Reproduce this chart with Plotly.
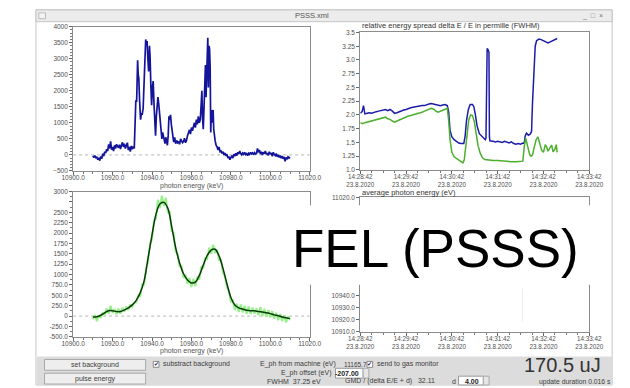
import plotly.graph_objects as go

# ---------------- data ----------------
# top-left: single-shot spectrum (photon energy keV, counts)
spec_e = [10910.0, 10910.5, 10911.0, 10911.5, 10912.0, 10912.5, 10913.0, 10913.5, 10914.0, 10914.5,
          10915.0, 10915.5, 10916.0, 10916.5, 10917.0, 10917.5, 10918.0, 10918.5, 10919.0, 10919.5,
          10920.0, 10920.5, 10921.0, 10921.5, 10922.0, 10922.5, 10923.0, 10923.5, 10924.0, 10924.5,
          10925.0, 10925.5, 10926.0, 10926.5, 10927.0, 10927.5, 10928.0, 10928.5, 10929.0, 10929.5,
          10930.0, 10930.5, 10931.0, 10931.3, 10931.8, 10932.2, 10932.7, 10933.0, 10933.3, 10933.7,
          10934.2, 10934.6, 10935.0, 10935.5, 10936.0, 10936.4, 10936.8, 10937.1, 10937.5, 10937.9,
          10938.3, 10938.7, 10939.0, 10939.4, 10939.8, 10940.2, 10940.6, 10941.0, 10941.4, 10941.8,
          10942.2, 10942.6, 10943.0, 10943.4, 10943.8, 10944.2, 10944.6, 10945.0, 10945.4, 10945.8,
          10946.2, 10946.6, 10947.0, 10947.4, 10947.8, 10948.2, 10948.6, 10949.0, 10949.4, 10949.8,
          10950.2, 10950.6, 10951.0, 10951.5, 10952.0, 10952.5, 10953.0, 10953.5, 10954.0, 10954.5,
          10955.0, 10955.5, 10956.0, 10956.5, 10957.0, 10957.5, 10958.0, 10958.5, 10959.0, 10959.5,
          10960.0, 10960.5, 10961.0, 10961.5, 10962.0, 10962.5, 10963.0, 10963.5, 10964.0, 10964.5,
          10965.0, 10965.3, 10965.6, 10966.0, 10966.4, 10966.8, 10967.1, 10967.4, 10967.7, 10968.0,
          10968.3, 10968.6, 10968.9, 10969.2, 10969.5, 10969.8, 10970.1, 10970.4, 10970.7, 10971.0,
          10971.3, 10971.6, 10972.0, 10972.5, 10973.0, 10973.5, 10974.0, 10974.5, 10975.0, 10975.5,
          10976.0, 10976.5, 10977.0, 10977.5, 10978.0, 10978.5, 10979.0, 10979.5, 10980.0, 10980.5,
          10981.0, 10981.5, 10982.0, 10982.5, 10983.0, 10983.5, 10984.0, 10984.5, 10985.0, 10985.5,
          10986.0, 10986.5, 10987.0, 10987.5, 10988.0, 10988.5, 10989.0, 10989.5, 10990.0, 10990.5,
          10991.0, 10991.5, 10992.0, 10992.5, 10993.0, 10993.5, 10994.0, 10994.5, 10995.0, 10995.5,
          10996.0, 10996.5, 10997.0, 10997.5, 10998.0, 10998.5, 10999.0, 10999.5, 11000.0, 11000.5,
          11001.0, 11001.5, 11002.0, 11002.5, 11003.0, 11003.5, 11004.0, 11004.5, 11005.0, 11005.5,
          11006.0, 11006.5, 11007.0, 11007.5, 11008.0, 11008.5, 11009.0, 11009.5, 11010.0]
spec_v = [-30, -80, -20, -100, -60, -150, -90, -180, -50, -120,
          40, -40, 100, 60, 180, 120, 330, 200, 420, 160,
          250, 120, 300, 200, 330, 260, 220, 320, 180, 300,
          390, 250, 350, 200, 300, 380, 150, 250, 100, 280,
          180, 260, 200, 600, 1700, 1650, 2950, 2500, 2400, 1700,
          1100, 1300, 1250, 1450, 2200, 3200, 3600, 3450, 3550, 3000,
          2600, 3400, 3100, 2200, 1550, 2100, 2300, 1600, 1100, 600,
          1200, 1750, 1800, 1600, 1300, 1150, 800, 500, 700, 600,
          450, 350, 550, 400, 300, 600, 1200, 1100, 1250, 950,
          800, 600, 400, 550, 350, 450, 380, 420, 330, 500,
          450, 380, 420, 520, 380, 450, 600, 700, 780, 650,
          850, 750, 900, 1000, 850, 1100, 950, 1200, 1000, 1100,
          1650, 2000, 1200, 800, 1500, 2400, 2800, 1800, 2600, 3100,
          3650, 2100, 3400, 3300, 2700, 700, 1400, 1000, 1300, 1400,
          800, 600, 450, 300, 250, 150, 250, 100, 120, 50,
          100, 0, 60, -30, 20, -100, -50, -150, -60, -20,
          -100, 20, -40, 50, -20, 80, 30, 120, 40, 0,
          60, 20, 80, 10, 40, -20, 50, 20, 80, 30,
          60, 10, 70, 30, 40, 200, 80, 150, 30, 100,
          0, 80, 40, 120, 20, 60, -20, 100, 20, 60,
          -40, 80, 10, -20, 40, -60, 0, -80, -20, -100,
          -40, -120, -60, -200, -80, -120, -60, -100, -70]

# bottom-left: averaged spectrum (raw average + smoothed)
avg_e = list(range(10910, 11011))
avg_raw = [-80, 30, -120, 20, -40, 90, 20, 180, 60, 250,
           80, 170, 40, 180, 60, 200, 110, 230, 150, 280,
           220, 320, 330, 500, 480, 760, 760, 1150, 1300, 1750,
           1850, 2300, 2350, 2800, 2600, 2900, 2650, 2850, 2500, 2500,
           2050, 2000, 1550, 1500, 1200, 1200, 920, 1000, 780, 920,
           700, 900, 720, 950, 880, 1200, 1150, 1400, 1380, 1650,
           1500, 1720, 1520, 1600, 1350, 1350, 1050, 950, 700, 600,
           350, 380, 150, 300, 100, 280, 90, 250, 60, 230,
           50, 200, 60, 180, 20, 220, 0, 170, -10, 150,
           -30, 120, -60, 80, -100, 50, -120, 20, -150, -10,
           -100]
smooth_e = list(range(10910, 11011, 2))
smooth_v = [-20, -15, 20, 80, 130, 130, 110, 110, 150, 200,
            270, 380, 560, 850, 1400, 1950, 2450, 2700, 2740, 2600,
            2150, 1650, 1280, 1020, 870, 800, 820, 980, 1230, 1460,
            1590, 1610, 1450, 1150, 780, 450, 270, 200, 170, 140,
            130, 130, 110, 100, 80, 60, 30, 10, -20, -40,
            -60]

# top-right: relative energy spread vs time (minutes after 14:28:42)
blue_t = [0.00, 0.04, 0.07, 0.10, 0.15, 0.20, 0.25, 0.30, 0.35, 0.40, 0.45, 0.50, 0.55, 0.60,
          0.65, 0.70, 0.75, 0.80, 0.85, 0.90, 0.95, 1.00, 1.05, 1.10, 1.15, 1.20, 1.25, 1.30,
          1.35, 1.40, 1.45, 1.50, 1.55, 1.60, 1.65, 1.70, 1.75, 1.80, 1.85, 1.90, 1.93, 1.96,
          2.00, 2.05, 2.10, 2.15, 2.20, 2.26, 2.29, 2.32, 2.36, 2.40, 2.45, 2.48, 2.51, 2.55,
          2.60, 2.65, 2.70, 2.73, 2.745, 2.755, 2.77, 2.79, 2.81, 2.82, 2.83, 2.90, 2.95, 3.00,
          3.05, 3.10, 3.15, 3.20, 3.25, 3.30, 3.35, 3.40, 3.45, 3.50, 3.55, 3.58, 3.60, 3.63,
          3.67, 3.71, 3.74, 3.76, 3.79, 3.82, 3.85, 3.90, 3.95, 4.00, 4.05, 4.10, 4.15, 4.20,
          4.25, 4.30]
blue_v = [2.03, 2.06, 2.17, 2.02, 2.03, 2.04, 2.03, 2.05, 2.06, 2.07, 2.08, 2.09, 2.10, 2.08,
          2.10, 2.07, 2.03, 2.04, 2.06, 2.07, 2.09, 2.10, 2.12, 2.13, 2.14, 2.15, 2.16, 2.16,
          2.17, 2.17, 2.19, 2.20, 2.21, 2.20, 2.19, 2.18, 2.17, 2.18, 2.19, 2.17, 2.05, 1.72,
          1.60, 1.55, 1.52, 1.49, 1.48, 1.48, 1.62, 1.90, 2.10, 2.19, 2.19, 2.15, 2.02, 1.80,
          1.66, 1.61, 1.57, 1.55, 1.58, 3.15, 3.21, 3.19, 3.14, 1.60, 1.53, 1.52, 1.51, 1.52,
          1.51, 1.50, 1.52, 1.50, 1.49, 1.51, 1.48, 1.47, 1.48, 1.47, 1.49, 1.48, 1.62, 1.67,
          1.63, 1.65, 1.70, 2.20, 2.80, 3.25, 3.35, 3.38, 3.37, 3.35, 3.33, 3.31, 3.33, 3.35,
          3.38, 3.39]
green_t = [0.00, 0.05, 0.10, 0.15, 0.20, 0.25, 0.30, 0.35, 0.40, 0.45, 0.50, 0.55, 0.60, 0.65,
           0.70, 0.75, 0.80, 0.85, 0.90, 0.95, 1.00, 1.05, 1.10, 1.15, 1.20, 1.25, 1.30, 1.35,
           1.40, 1.45, 1.50, 1.55, 1.60, 1.65, 1.70, 1.75, 1.80, 1.85, 1.90, 1.93, 1.96, 2.00,
           2.05, 2.10, 2.15, 2.20, 2.24, 2.27, 2.30, 2.33, 2.37, 2.41, 2.45, 2.49, 2.53, 2.57,
           2.62, 2.67, 2.72, 2.80, 2.90, 3.00, 3.10, 3.20, 3.30, 3.40, 3.50, 3.55, 3.58, 3.61,
           3.64, 3.67, 3.70, 3.73, 3.76, 3.80, 3.84, 3.88, 3.92, 3.96, 4.00, 4.04, 4.07, 4.10,
           4.14, 4.18, 4.21, 4.25, 4.28, 4.30]
green_v = [1.86, 1.84, 1.86, 1.87, 1.88, 1.90, 1.91, 1.92, 1.93, 1.94, 1.95, 1.96, 1.93, 1.92,
           1.89, 1.87, 1.89, 1.91, 1.93, 1.95, 1.96, 1.98, 1.99, 2.00, 2.01, 2.03, 2.04, 2.05,
           2.07, 2.09, 2.11, 2.12, 2.11, 2.07, 2.05, 2.07, 2.09, 2.11, 2.12, 1.90, 1.55, 1.32,
           1.24, 1.21, 1.18, 1.16, 1.13, 1.18, 1.40, 1.72, 1.92, 2.00, 1.99, 1.88, 1.65, 1.45,
           1.30, 1.22, 1.19, 1.18, 1.17, 1.17, 1.16, 1.16, 1.15, 1.15, 1.15, 1.16, 1.42, 1.58,
           1.48, 1.38, 1.28, 1.25, 1.27, 1.42, 1.55, 1.60, 1.48, 1.36, 1.32, 1.46, 1.42, 1.34,
           1.40, 1.45, 1.33, 1.38, 1.46, 1.32]

time_ticks = [0, 1, 2, 3, 4, 5]
time_labels = ["14:28:42<br>23.8.2020", "14:29:42<br>23.8.2020", "14:30:42<br>23.8.2020",
               "14:31:42<br>23.8.2020", "14:32:42<br>23.8.2020", "14:33:42<br>23.8.2020"]
spread_ticks = [1.0, 1.25, 1.5, 1.75, 2.0, 2.25, 2.5, 2.75, 3.0, 3.25, 3.5]
spread_labels = ["1.0", "1.25", "1.5", "1.75", "2.0", "2.25", "2.5", "2.75", "3.0", "3.25", "3.5"]
avg_ticks = [3000, 2750, 2500, 2250, 2000, 1750, 1500, 1250, 1000, 750, 500, 250, 0, -250, -500]
avg_labels = ["3000", "", "2500", "2250", "2000", "1750", "1500", "1250", "1000", "750.0",
              "500.0", "250.0", "0", "-250.0", "-500.0"]
ephot_ticks = [10910, 10920, 10930, 10940, 11020]
ephot_labels = ["10910.0", "10920.0", "10930.0", "10940.0", "11020.0"]

# ---------------- layout helpers ----------------
W, H = 630, 388
def px(x): return x / W
def py(y): return 1 - y / H

TF = dict(size=6.5, color="#505050", family="Liberation Sans")
TFT = dict(size=6.3, color="#505050", family="Liberation Sans")
def ax(**kw):
    d = dict(showgrid=False, zeroline=False, showline=True, linecolor="#8c8c8c", linewidth=1,
             mirror=True, ticks="outside", ticklen=3, tickcolor="#666", tickfont=TF,
             fixedrange=True)
    d.update(kw)
    return d

fig = go.Figure()
fig.add_trace(go.Scatter(x=spec_e, y=spec_v, mode="lines", line=dict(color="#14149a", width=1.7),
                         xaxis="x", yaxis="y", showlegend=False))
fig.add_trace(go.Scatter(x=blue_t, y=blue_v, mode="lines", line=dict(color="#1c1ca8", width=1.5),
                         xaxis="x2", yaxis="y2", showlegend=False))
fig.add_trace(go.Scatter(x=green_t, y=green_v, mode="lines", line=dict(color="#4caf2e", width=1.5),
                         xaxis="x2", yaxis="y2", showlegend=False))
fig.add_trace(go.Scatter(x=avg_e, y=avg_raw, mode="lines", line=dict(color="#96f088", width=2.0),
                         xaxis="x3", yaxis="y3", showlegend=False))
fig.add_trace(go.Scatter(x=smooth_e, y=smooth_v, mode="lines", line=dict(color="#0b3a0b", width=1.5, shape="spline"),
                         xaxis="x3", yaxis="y3", showlegend=False))
fig.add_trace(go.Scatter(x=[], y=[], mode="lines", xaxis="x4", yaxis="y4", showlegend=False))

fig.update_layout(
    width=W, height=H, margin=dict(l=0, r=0, t=0, b=0),
    paper_bgcolor="white", plot_bgcolor="white", showlegend=False,
    xaxis=ax(domain=[px(62), px(310)], range=[10900, 11020], dtick=20, tickformat=".1f",
             anchor="y", ticklabelstandoff=-3,
             minor=dict(ticks="outside", ticklen=2, dtick=5, tickcolor="#777")),
    yaxis=ax(domain=[py(170), py(23)], range=[-500, 4000], dtick=500, anchor="x",
             minor=dict(ticks="outside", ticklen=2, dtick=100, tickcolor="#777")),
    xaxis2=ax(domain=[px(363), px(603)], range=[0, 5], tickvals=time_ticks, ticktext=time_labels,
              anchor="y2", tickfont=TFT, ticklabelstandoff=-3,
              minor=dict(ticks="outside", ticklen=2, dtick=0.25, tickcolor="#777")),
    yaxis2=ax(domain=[py(169), py(29)], range=[1.0, 3.5], tickvals=spread_ticks, ticktext=spread_labels,
              anchor="x2"),
    xaxis3=ax(domain=[px(62), px(310)], range=[10900, 11020], dtick=20, tickformat=".1f",
              anchor="y3", ticklabelstandoff=-3,
              minor=dict(ticks="outside", ticklen=2, dtick=5, tickcolor="#777")),
    yaxis3=ax(domain=[py(339), py(191)], range=[-500, 3000], tickvals=avg_ticks, ticktext=avg_labels,
              anchor="x3", minor=dict(ticks="outside", ticklen=2, dtick=125, tickcolor="#777")),
    xaxis4=ax(domain=[px(363), px(603)], range=[0, 5], tickvals=time_ticks, ticktext=time_labels,
              anchor="y4", tickfont=TFT, ticklabelstandoff=-3,
              minor=dict(ticks="outside", ticklen=2, dtick=0.25, tickcolor="#777")),
    yaxis4=ax(domain=[py(334), py(197)], range=[10910, 11020], tickvals=ephot_ticks, ticktext=ephot_labels,
              anchor="x4"),
)

shapes = []
# window frame
shapes.append(dict(type="rect", xref="paper", yref="paper", x0=px(23), x1=px(627), y0=py(388), y1=py(6),
                   line=dict(color="#c4c4c4", width=1), fillcolor="rgba(0,0,0,0)", layer="below"))
shapes.append(dict(type="rect", xref="paper", yref="paper", x0=px(23), x1=px(627), y0=py(18), y1=py(6),
                   line=dict(color="#c4c4c4", width=1), fillcolor="#ececec", layer="below"))
shapes.append(dict(type="rect", xref="paper", yref="paper", x0=px(26), x1=px(33), y0=py(15), y1=py(9),
                   line=dict(color="#bbbbbb", width=1), fillcolor="#f4f4f4", layer="below"))
# zero lines
for xr, yr in (("x domain", "y"), ("x3 domain", "y3")):
    shapes.append(dict(type="line", xref=xr, yref=yr, x0=0, x1=1, y0=0, y1=0,
                       line=dict(color="#b8b8b8", width=1, dash="dot"), layer="below"))
# bottom control panel
shapes.append(dict(type="rect", xref="paper", yref="paper", x0=px(24), x1=px(627), y0=py(388), y1=py(359),
                   line=dict(width=0), fillcolor="#dcdcdc", layer="above"))
for y0, y1 in ((362, 373), (376, 387)):
    shapes.append(dict(type="rect", xref="paper", yref="paper", x0=px(32), x1=px(138), y0=py(y1), y1=py(y0),
                       line=dict(color="#a8a8a8", width=1), fillcolor="#eeeeee", layer="above"))
for x0 in (146, 370):
    shapes.append(dict(type="rect", xref="paper", yref="paper", x0=px(x0), x1=px(x0 + 6), y0=py(370), y1=py(364),
                       line=dict(color="#888", width=1), fillcolor="white", layer="above"))
# input boxes
for x0, x1, y0, y1 in ((337, 366, 371, 381), (466, 492, 379, 388)):
    shapes.append(dict(type="rect", xref="paper", yref="paper", x0=px(x0), x1=px(x1), y0=py(y1), y1=py(y0),
                       line=dict(color="#999", width=1), fillcolor="white", layer="above"))
    shapes.append(dict(type="rect", xref="paper", yref="paper", x0=px(x1), x1=px(x1 + 6), y0=py(y1), y1=py(y0),
                       line=dict(color="#aaa", width=1), fillcolor="#e6e6e6", layer="above"))
# faint artefact line in bottom-right plot
shapes.append(dict(type="line", xref="paper", yref="paper", x0=px(533), x1=px(533), y0=py(323), y1=py(290),
                   line=dict(color="#ececec", width=1), layer="above"))
# white overlay box
shapes.append(dict(type="rect", xref="paper", yref="paper", x0=px(290), x1=px(612), y0=py(286), y1=py(205),
                   line=dict(width=0), fillcolor="white", layer="above"))
fig.update_layout(shapes=shapes)

anns = []
def txt(x, y, s, size=7, color="#3c3c3c", xanchor="left", family="Liberation Sans"):
    anns.append(dict(x=px(x), y=py(y), xref="paper", yref="paper", text=s, showarrow=False,
                     xanchor=xanchor, yanchor="middle", font=dict(size=size, color=color, family=family)))

txt(312, 12, "PSSS.xml", size=7.5, color="#555", xanchor="center")
txt(606, 12, "_  □  ×", size=7, color="#777", xanchor="center")
txt(186, 185, "photon energy (keV)", xanchor="center", color="#555")
txt(186, 353, "photon energy (keV)", xanchor="center", color="#555")
txt(363, 22, "relative energy spread delta E / E in permille (FWHM)", size=7.5, color="#333")
txt(363, 192, "average photon energy (eV)", size=7.5, color="#333")
txt(85, 367.5, "set background", xanchor="center")
txt(85, 381.5, "pulse energy", xanchor="center")
txt(149, 367, "✔", size=6, color="#225", xanchor="center")
txt(154, 367, "substract background")
txt(340, 367, "E_ph from machine (eV)", xanchor="right")
txt(344, 367, "11165.7", size=6.5)
txt(373, 367, "✔", size=6, color="#225", xanchor="center")
txt(378, 367, "send to gas monitor")
txt(334, 376, "E_ph offset (eV)", xanchor="right")
txt(364, 376, "<b>-207.00</b>", xanchor="right", color="#222")
txt(263, 384, "FWHM  37.25 eV")
txt(345, 384, "GMD / (delta E/E + d)   32.11")
txt(457, 384, "d")
txt(490, 384, "<b>4.00</b>", xanchor="right", color="#222")
txt(617, 367.5, "170.5 uJ", size=20, color="#333", xanchor="right")
txt(628, 385, "update duration 0.016 s", size=6.8, xanchor="right")
txt(442, 249, "FEL (PSSS)", size=53, color="black", xanchor="center")
fig.update_layout(annotations=anns)

fig.write_html("out.html")
